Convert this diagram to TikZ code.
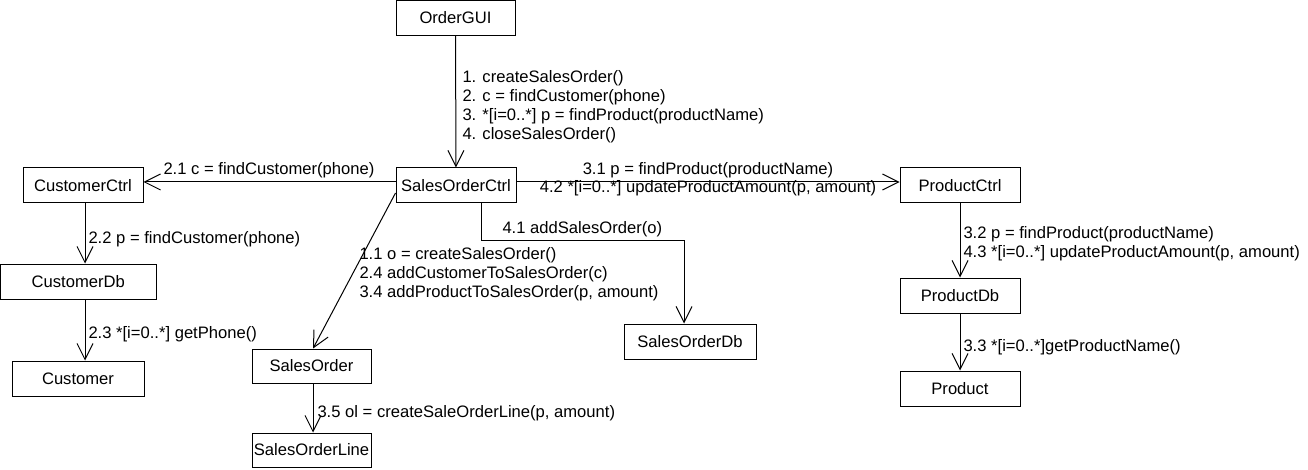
\documentclass[tikz,border=0pt]{standalone}
\usepackage{fontspec}
\setmainfont{Liberation Sans}
\usetikzlibrary{arrows.meta}
\begin{document}
\begin{tikzpicture}[x=1pt,y=-1pt,line width=1pt,
  >={Straight Barb[length=16pt,width=16pt]},
  every node/.style={font=\fontsize{16.6}{19}\selectfont},
  obj/.style={draw,inner sep=0pt,minimum height=35pt},
  msg/.style={inner sep=0pt,anchor=west,align=left}]
\useasboundingbox (0,0) rectangle (1308,470);
% objects
\node[obj,minimum width=119pt] (gui) at (455.5,18) {OrderGUI};
\node[obj,minimum width=120pt] (soc) at (456,185.5) {SalesOrderCtrl};
\node[obj,minimum width=120pt] (cc) at (83,185.5) {CustomerCtrl};
\node[obj,minimum width=155.5pt] (cdb) at (78.25,281.5) {CustomerDb};
\node[obj,minimum width=132pt] (cu) at (78,378.5) {Customer};
\node[obj,minimum width=119pt,minimum height=34pt] (so) at (311.5,366) {SalesOrder};
\node[obj,minimum width=119pt,minimum height=34pt] (sol) at (311.5,450) {SalesOrderLine};
\node[obj,minimum width=132pt] (sod) at (690,341.5) {SalesOrderDb};
\node[obj,minimum width=120pt] (pc) at (960,185.5) {ProductCtrl};
\node[obj,minimum width=120pt] (pdb) at (960,295.5) {ProductDb};
\node[obj,minimum width=120pt] (pr) at (960,388.5) {Product};
% connectors
\draw[->] (gui) -- (soc);
\draw[->] ([yshift=3.5pt]soc.west) -- ([yshift=3.5pt]cc.east);
\draw[->] ([yshift=3.5pt]soc.east) -- ([yshift=3.5pt]pc.west);
\draw[->] ([xshift=2pt]cc.south) -- ([xshift=2pt]cc.south |- cdb.north);
\draw[->] ([xshift=6.75pt]cdb.south) -- ([xshift=6.75pt]cdb.south |- cu.north);
\draw[->] ([yshift=-7.5pt]soc.west) -- ([xshift=1.5pt]so.north);
\draw[->] ([xshift=1.5pt]so.south) -- ([xshift=1.5pt]sol.north);
\draw[->] ([xshift=25pt]soc.south) -- ++(0,37) -| ([xshift=-6pt]sod.north);
\draw[->] (pc) -- (pdb);
\draw[->] (pdb) -- (pr);
% messages
\node[msg] (m1) at (462,106.5) {1. createSalesOrder()\\2. c = findCustomer(phone)\\3. *[i=0..*] p = findProduct(productName)\\4. closeSalesOrder()};
\node[msg] (m21) at (163,170) {2.1 c = findCustomer(phone)};
\node[msg] (m22) at (88,239) {2.2 p = findCustomer(phone)};
\node[msg] (m23) at (88,334) {2.3 *[i=0..*] getPhone()};
\node[msg] (m11) at (359,274) {1.1 o = createSalesOrder()\\2.4 addCustomerToSalesOrder(c)\\3.4 addProductToSalesOrder(p, amount)};
\node[msg] (m35) at (317,413) {3.5 ol = createSaleOrderLine(p, amount)};
\node[msg] (m41) at (502,229) {4.1 addSalesOrder(o)};
\node[inner sep=0pt] (m31) at (708,170) {3.1 p = findProduct(productName)};
\node[inner sep=0pt] (m42) at (708,188) {4.2 *[i=0..*] updateProductAmount(p, amount)};
\node[msg] (m32) at (963,244) {3.2 p = findProduct(productName)\\4.3 *[i=0..*] updateProductAmount(p, amount)};
\node[msg] (m33) at (963,347) {3.3 *[i=0..*]getProductName()};
\end{tikzpicture}
\end{document}
